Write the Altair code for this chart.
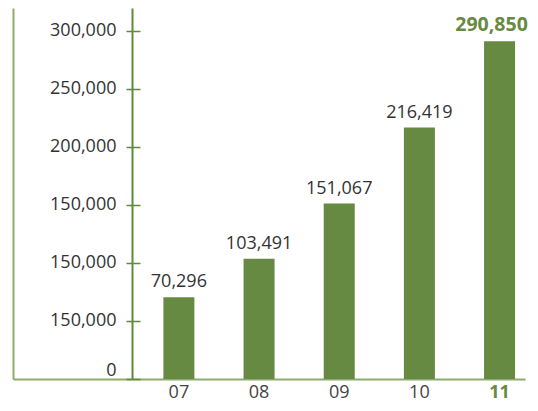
import altair as alt
import pandas as pd

years = ["07", "08", "09", "10", "11"]
values = [70296, 103491, 151067, 216419, 290850]
value_labels = ["70,296", "103,491", "151,067", "216,419", "290,850"]
y_tick_values = [0, 50000, 100000, 150000, 200000, 250000, 300000]
y_tick_labels = ["0", "150,000", "150,000", "150,000", "200,000", "250,000", "300,000"]
highlight = "11"

FONT = "Open Sans"
GREEN = "#678a42"
DARK = "#5f8a3a"
LIGHT = "#8cab6c"
TEXT = "#333333"

df = pd.DataFrame({"year": years, "value": values, "label": value_labels})

label_expr = "''"
for v, l in reversed(list(zip(y_tick_values, y_tick_labels))):
    label_expr = f"datum.value === {v} ? '{l}' : ({label_expr})"

x = alt.X(
    "year:N", sort=years, title=None,
    scale=alt.Scale(paddingInner=0.6133, paddingOuter=1, align=0.938),
    axis=alt.Axis(
        labelAngle=0, ticks=False, domainColor=LIGHT, domainWidth=2,
        labelFont=FONT, labelFontSize=18, labelPadding=18, labelBaseline="alphabetic",
        labelColor={"condition": {"test": f"datum.value === '{highlight}'", "value": GREEN}, "value": "#444444"},
        labelFontWeight={"condition": {"test": f"datum.value === '{highlight}'", "value": "bold"}, "value": "normal"},
    ),
)
yscale = alt.Scale(domain=[0, 319400], nice=False, zero=True)

bars = alt.Chart(df).mark_bar(color=GREEN).encode(
    x=x,
    y=alt.Y("value:Q", scale=yscale, title=None, axis=alt.Axis(
        orient="left", offset=-119, values=y_tick_values, labelExpr=label_expr,
        tickSize=6, tickColor=DARK, tickWidth=1.5, domainColor=DARK, domainWidth=2,
        labelPadding=10, labelFont=FONT, labelFontSize=18, labelColor=TEXT,
        labelFlush=False, labelOverlap=False, grid=False,
        labelOffset={"condition": {"test": "datum.value === 0", "value": -9}, "value": 0},
    )),
)

text_norm = alt.Chart(df).transform_filter(alt.datum.year != highlight).mark_text(
    baseline="alphabetic", dy=-10, font=FONT, fontSize=18, color=TEXT
).encode(
    x=x,
    y=alt.Y("value:Q", scale=yscale, title=None, axis=alt.Axis(
        orient="right", offset=-393, values=y_tick_values, labels=False, domain=False,
        tickSize=8, tickColor=DARK, tickWidth=1.5, grid=False)),
    text="label:N",
)

text_bold = alt.Chart(df).transform_filter(alt.datum.year == highlight).mark_text(
    baseline="alphabetic", dy=-10, dx=-8, font=FONT, fontSize=19.5, fontWeight="bold", color=GREEN
).encode(
    x=x,
    y=alt.Y("value:Q", scale=yscale, title=None, axis=alt.Axis(
        orient="left", offset=0, labels=False, ticks=False, grid=False,
        domainColor=LIGHT, domainWidth=2)),
    text="label:N",
)

chart = alt.layer(bars, text_norm, text_bold).resolve_axis(y="independent").properties(
    width=512, height=371,
    autosize=alt.AutoSizeParams(type="none"),
    padding={"left": 5, "top": 0, "right": 5, "bottom": 24},
).configure_view(stroke="transparent")

chart.save("out.html", embed_options={"renderer": "svg", "actions": False})
